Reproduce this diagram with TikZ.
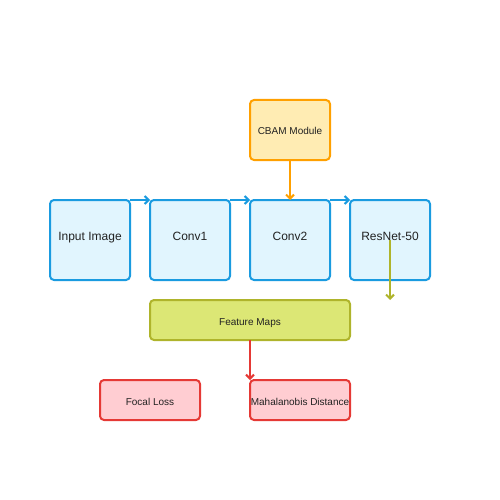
\documentclass[tikz,border=0pt]{standalone}
\usepackage{fontspec}
\setmainfont{Liberation Sans}
\usetikzlibrary{arrows.meta}
\definecolor{bstroke}{HTML}{1A9BE0}
\definecolor{bfill}{HTML}{E1F5FE}
\definecolor{ostroke}{HTML}{FFA000}
\definecolor{ofill}{HTML}{FFECB3}
\definecolor{gstroke}{HTML}{AFB42B}
\definecolor{gfill}{HTML}{DCE775}
\definecolor{rstroke}{HTML}{E53935}
\definecolor{rfill}{HTML}{FFCDD2}
\definecolor{txt}{HTML}{222222}
\tikzset{
  box/.style={rectangle, rounded corners=4pt, line width=2pt, inner sep=0pt, outer sep=0pt, text=txt, font=\fontsize{10}{12}\selectfont, text height=10pt, text depth=0pt},
  bluebox/.style={box, draw=bstroke, fill=bfill, minimum width=80pt, minimum height=80pt, font=\fontsize{12}{14}\selectfont, text height=6pt, text depth=6pt},
  orangebox/.style={box, draw=ostroke, fill=ofill, minimum width=80pt, minimum height=60pt},
  greenbox/.style={box, draw=gstroke, fill=gfill, minimum width=200pt, minimum height=40pt},
  redbox/.style={box, draw=rstroke, fill=rfill, minimum width=100pt, minimum height=40pt},
  conn/.style={line width=2pt, -{Straight Barb[length=4pt,width=8pt,line width=2pt]}}
}
\begin{document}
\begin{tikzpicture}[x=1pt,y=-1pt]
\useasboundingbox (0,0) rectangle (500,500);
\node[bluebox] (inp) at (90,240) {Input Image};
\node[bluebox] (c1) at (190,240) {Conv1};
\node[bluebox] (c2) at (290,240) {Conv2};
\node[bluebox] (rn) at (390,240) {ResNet-50};
\node[orangebox] (cbam) at (290,130) {CBAM Module};
\node[greenbox] (fm) at (250,320) {Feature Maps};
\node[redbox] (fl) at (150,400) {Focal Loss};
\node[redbox] (md) at (300,400) {Mahalanobis Distance};
\coordinate (rnend) at (390,300);
\draw[conn, bstroke] (inp.north east) -- (c1.north west);
\draw[conn, bstroke] (c1.north east) -- (c2.north west);
\draw[conn, bstroke] (c2.north east) -- (rn.north west);
\draw[conn, ostroke] (cbam.south) -- (c2.north);
\draw[conn, gstroke] (rn.center) -- (rnend);
\draw[conn, rstroke] (fm.south) -- (fm.south |- md.north);
\end{tikzpicture}
\end{document}
